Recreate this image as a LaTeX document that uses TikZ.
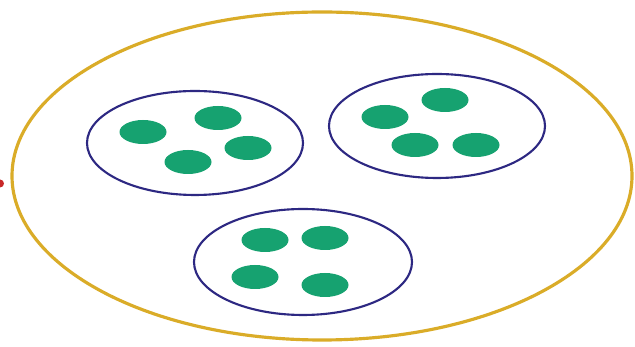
\documentclass[tikz,border=0pt]{standalone}
\definecolor{setgold}{RGB}{218,172,40}
\definecolor{setnavy}{RGB}{45,40,130}
\definecolor{elemgreen}{RGB}{22,162,112}
\definecolor{markred}{RGB}{200,40,40}
\begin{document}
\begin{tikzpicture}
    \useasboundingbox (0,0) rectangle (12.7,-6.94);
    % outer set
    \draw[line width=1.8pt, draw=setgold, fill=white] (6.44,-3.52) ellipse (6.2cm and 3.28cm);
    \fill[markred] (0,-3.67) circle (0.08);
    % subsets
    \draw[line width=1.2pt, draw=setnavy] (3.9,-2.86) ellipse (2.16cm and 1.04cm);
    \draw[line width=1.2pt, draw=setnavy] (8.74,-2.52) ellipse (2.16cm and 1.04cm);
    \draw[line width=1.2pt, draw=setnavy] (6.06,-5.24) ellipse (2.18cm and 1.06cm);
    % elements
    \fill[elemgreen] (2.86,-2.64) ellipse (0.47cm and 0.24cm);
    \fill[elemgreen] (4.36,-2.36) ellipse (0.47cm and 0.24cm);
    \fill[elemgreen] (4.96,-2.96) ellipse (0.47cm and 0.24cm);
    \fill[elemgreen] (3.76,-3.24) ellipse (0.47cm and 0.24cm);
    \fill[elemgreen] (7.7,-2.34) ellipse (0.47cm and 0.24cm);
    \fill[elemgreen] (8.9,-2.0) ellipse (0.47cm and 0.24cm);
    \fill[elemgreen] (8.3,-2.9) ellipse (0.47cm and 0.24cm);
    \fill[elemgreen] (9.52,-2.9) ellipse (0.47cm and 0.24cm);
    \fill[elemgreen] (5.3,-4.8) ellipse (0.47cm and 0.24cm);
    \fill[elemgreen] (6.5,-4.76) ellipse (0.47cm and 0.24cm);
    \fill[elemgreen] (5.1,-5.54) ellipse (0.47cm and 0.24cm);
    \fill[elemgreen] (6.5,-5.7) ellipse (0.47cm and 0.24cm);
\end{tikzpicture}
\end{document}
